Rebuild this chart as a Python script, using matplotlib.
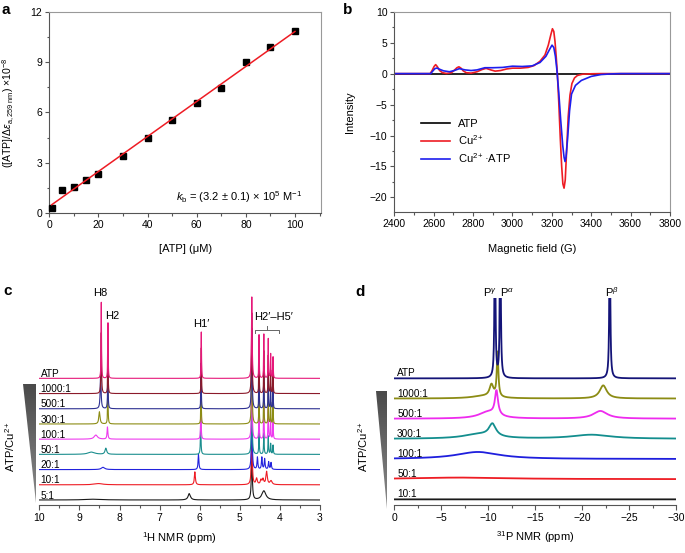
import numpy as np
import matplotlib
matplotlib.use("Agg")
import matplotlib.pyplot as plt
from matplotlib.patches import Polygon
from matplotlib.colors import LinearSegmentedColormap
from matplotlib.ticker import MultipleLocator

plt.rcParams["font.family"] = ["Liberation Sans", "DejaVu Sans"]
plt.rcParams["mathtext.fontset"] = "custom"
plt.rcParams["mathtext.rm"] = "Liberation Sans"
plt.rcParams["mathtext.it"] = "Liberation Sans:italic"
plt.rcParams["mathtext.bf"] = "Liberation Sans:bold"
plt.rcParams["font.size"] = 7.5
plt.rcParams["axes.linewidth"] = 0.8

# ---- panel a: [ATP]/delta-eps vs [ATP]
atp_conc = [1, 5, 10, 15, 20, 30, 40, 50, 60, 70, 80, 90, 100]
atp_ratio = [0.28, 1.39, 1.57, 1.94, 2.30, 3.42, 4.50, 5.52, 6.53, 7.43, 8.98, 9.92, 10.85]

# ---- panel b: EPR spectra
epr_atp_x = [2400, 3800]
epr_atp_y = [0, 0]
epr_cu_x = [2400, 2500, 2582, 2592, 2602, 2610, 2618, 2630, 2645, 2665, 2690, 2705,
            2718, 2728, 2738, 2750, 2765, 2790, 2820, 2845, 2866, 2890, 2912, 2940,
            2970, 3000, 3040, 3080, 3110, 3140, 3165, 3182, 3195, 3203, 3210, 3216,
            3222, 3228, 3235, 3243, 3250, 3256, 3262, 3268, 3275, 3283, 3292, 3302,
            3315, 3330, 3355, 3400, 3450, 3500, 3800]
epr_cu_y = [0, 0, 0, 0.5, 1.15, 1.45, 1.15, 0.5, 0.15, 0.02, 0.15, 0.55,
            0.95, 1.1, 0.9, 0.45, 0.15, 0.08, 0.3, 0.65, 0.85, 0.6, 0.4, 0.5,
            0.75, 0.88, 0.88, 1.0, 1.3, 2.0, 3.0, 4.6, 6.3, 7.25, 6.8, 5.2,
            2.8, 0.0, -4.5, -10.5, -15.0, -17.8, -18.5, -17.2, -12.5, -7.0, -3.5, -1.6,
            -0.7, -0.3, -0.1, -0.03, 0, 0, 0]
epr_cuatp_x = [2400, 2500, 2585, 2595, 2606, 2616, 2630, 2650, 2680, 2705, 2730, 2760,
               2790, 2820, 2860, 2900, 2950, 3000, 3050, 3100, 3140, 3170, 3190, 3201,
               3210, 3218, 3225, 3235, 3245, 3255, 3262, 3267, 3272, 3280, 3290, 3300,
               3320, 3350, 3400, 3450, 3500, 3550, 3800]
epr_cuatp_y = [0, 0, 0, 0.4, 0.8, 0.9, 0.7, 0.45, 0.3, 0.5, 0.8, 0.6,
               0.5, 0.6, 0.95, 0.95, 1.0, 1.2, 1.15, 1.25, 1.8, 2.8, 4.0, 4.6,
               4.2, 2.8, 0.8, -3.0, -7.5, -11.5, -13.5, -14.2, -13.5, -10.5, -6.0, -3.3,
               -1.9, -1.1, -0.45, -0.15, -0.05, 0, 0]

# ---- panel c: 1H NMR, peaks as (ppm, height, half width)
h_labels = ["5:1", "10:1", "20:1", "50:1", "100:1", "300:1", "500:1", "1000:1", "ATP"]
h_colors = ["#1a1a1a", "#ee1c24", "#2222dd", "#1b8e8e", "#ee3bee",
            "#8c8c14", "#2e3192", "#8b1a2a", "#e6197a"]
h_peaks = [
    [(8.65, 0.05, 0.25), (6.26, 0.42, 0.035), (4.70, 3.0, 0.014), (4.40, 0.6, 0.06)],
    [(8.52, 0.08, 0.12), (6.12, 0.85, 0.015), (4.70, 4.0, 0.012), (4.58, 0.4, 0.02),
     (4.47, 0.3, 0.02), (4.42, 0.35, 0.02), (4.33, 0.85, 0.02), (4.22, 0.25, 0.03)],
    [(8.41, 0.15, 0.05), (6.03, 1.0, 0.012), (4.70, 4.5, 0.011), (4.56, 0.8, 0.012),
     (4.45, 0.8, 0.012), (4.38, 0.7, 0.012), (4.28, 0.5, 0.012), (4.22, 0.45, 0.012)],
    [(8.70, 0.15, 0.10), (8.34, 0.4, 0.025), (5.975, 2.3, 0.008), (4.70, 4.8, 0.010),
     (4.52, 1.4, 0.008), (4.40, 1.4, 0.008), (4.29, 1.2, 0.008), (4.23, 0.7, 0.008),
     (4.17, 0.6, 0.008)],
    [(8.59, 0.27, 0.05), (8.30, 0.8, 0.012), (5.97, 2.7, 0.007), (4.70, 5.0, 0.010),
     (4.52, 2.2, 0.007), (4.40, 2.2, 0.007), (4.29, 2.0, 0.007), (4.23, 1.2, 0.007),
     (4.17, 1.1, 0.007)],
    [(8.50, 0.8, 0.018), (8.29, 2.5, 0.007), (5.965, 2.9, 0.006), (4.70, 5.2, 0.010),
     (4.52, 2.7, 0.006), (4.40, 2.7, 0.006), (4.29, 2.3, 0.006), (4.23, 1.4, 0.006),
     (4.17, 1.3, 0.006)],
    [(8.47, 2.5, 0.012), (8.29, 3.0, 0.007), (5.965, 3.0, 0.006), (4.70, 5.3, 0.010),
     (4.52, 2.8, 0.006), (4.40, 2.8, 0.006), (4.29, 2.4, 0.006), (4.23, 1.4, 0.006),
     (4.17, 1.3, 0.006)],
    [(8.455, 4.0, 0.008), (8.288, 3.4, 0.006), (5.96, 3.0, 0.006), (4.70, 5.3, 0.010),
     (4.52, 2.8, 0.006), (4.40, 2.8, 0.006), (4.29, 2.5, 0.006), (4.23, 1.5, 0.006),
     (4.17, 1.35, 0.006)],
    [(8.454, 5.0, 0.006), (8.287, 3.65, 0.006), (5.96, 3.05, 0.006), (4.70, 5.35, 0.010),
     (4.52, 2.85, 0.006), (4.40, 2.9, 0.006), (4.29, 2.6, 0.006), (4.23, 1.6, 0.006),
     (4.17, 1.4, 0.006)],
]

# ---- panel d: 31P NMR
p_labels = ["10:1", "50:1", "100:1", "300:1", "500:1", "1000:1", "ATP"]
p_colors = ["#1a1a1a", "#ee1c24", "#1e1edd", "#138e8e", "#ee2bee", "#8c8c14", "#141478"]
p_peaks = [
    [],
    [(-7.0, 0.08, 6.0)],
    [(-8.9, 0.35, 2.8)],
    [(-10.45, 0.62, 0.45), (-9.0, 0.22, 2.0), (-21.0, 0.2, 2.5)],
    [(-10.88, 1.2, 0.2), (-10.0, 0.33, 1.2), (-21.95, 0.38, 0.9)],
    [(-11.0, 2.2, 0.1), (-10.35, 0.6, 0.25), (-9.5, 0.12, 1.5), (-22.25, 0.65, 0.45)],
    [(-10.72, 8.0, 0.06), (-11.29, 8.0, 0.06), (-22.95, 8.0, 0.06)],
]


def lorentz_sum(x, peaks):
    y = np.zeros_like(x)
    for pos, h, w in peaks:
        y += h * w**2 / ((x - pos) ** 2 + w**2)
    return y


W, H = 685, 553
fig = plt.figure(figsize=(W / 100, H / 100), dpi=100)


def px_axes(left, top, right, bottom):
    return fig.add_axes([left / W, 1 - bottom / H, (right - left) / W, (bottom - top) / H])


def frame_style(ax):
    for s in ("left", "bottom"):
        ax.spines[s].set_color("#555555")
    for s in ("top", "right"):
        ax.spines[s].set_color("#999999")
    ax.tick_params(which="both", direction="out", color="#555555", width=0.8,
                   top=False, right=False, labelsize=7.5, pad=2)
    ax.tick_params(which="major", length=3)
    ax.tick_params(which="minor", length=1.8)


# ---------------- a
ax_a = px_axes(49.3, 11.7, 321, 213)
ax_a.plot(atp_conc, atp_ratio, "s", color="black", ms=4.8, clip_on=False, zorder=3)
slope, icept = np.polyfit(atp_conc, atp_ratio, 1)
fx = np.array([atp_conc[0], atp_conc[-1]])
ax_a.plot(fx, slope * fx + icept, color="#ee1c24", lw=1.1, zorder=4)
ax_a.set_xlim(0, 110.6)
ax_a.set_ylim(0, 12)
ax_a.xaxis.set_major_locator(MultipleLocator(20))
ax_a.xaxis.set_minor_locator(MultipleLocator(10))
ax_a.yaxis.set_major_locator(MultipleLocator(3))
ax_a.yaxis.set_minor_locator(MultipleLocator(1.5))
frame_style(ax_a)
ax_a.set_xlabel("[ATP] (μM)", fontsize=8)
ax_a.xaxis.set_label_coords(0.5, -0.155)
ax_a.set_ylabel(r"([ATP]/Δ$\varepsilon_{\rm a,259\ nm}$) ×10$^{-8}$", fontsize=7.6)
ax_a.yaxis.set_label_coords(-0.12, 0.5)
ax_a.text(0.93, 0.058, r"$k_{\rm b}$ = (3.2 ± 0.1) × 10$^{5}$ M$^{-1}$",
          transform=ax_a.transAxes, ha="right", va="baseline", fontsize=8)

# ---------------- b
ax_b = px_axes(394.3, 11.7, 670, 212.3)
ax_b.plot(epr_atp_x, epr_atp_y, color="black", lw=1.2, label="ATP")
ax_b.plot(epr_cu_x, epr_cu_y, color="#ee1c24", lw=1.2, label=r"Cu$^{2+}$")
ax_b.plot(epr_cuatp_x, epr_cuatp_y, color="#1e1eee", lw=1.2, label=r"Cu$^{2+}$·ATP")
ax_b.set_xlim(2400, 3800)
ax_b.set_ylim(-22.4, 10)
ax_b.xaxis.set_major_locator(MultipleLocator(200))
ax_b.xaxis.set_minor_locator(MultipleLocator(100))
ax_b.yaxis.set_major_locator(MultipleLocator(5))
ax_b.yaxis.set_minor_locator(MultipleLocator(2.5))
frame_style(ax_b)
ax_b.set_xlabel("Magnetic field (G)", fontsize=8)
ax_b.xaxis.set_label_coords(0.5, -0.158)
ax_b.set_ylabel("Intensity", fontsize=8)
ax_b.yaxis.set_label_coords(-0.143, 0.5)
ax_b.legend(loc="upper left", bbox_to_anchor=(0.09, 0.475), frameon=False, fontsize=8,
            handlelength=2.6, handletextpad=0.7, borderaxespad=0, borderpad=0.2,
            labelspacing=0.35)


def spectrum_style(ax):
    for s in ("left", "top", "right"):
        ax.spines[s].set_visible(False)
    ax.spines["bottom"].set_color("#555555")
    ax.set_yticks([])
    ax.tick_params(which="both", direction="out", color="#555555", width=0.8,
                   labelsize=7.5, pad=2)
    ax.tick_params(which="major", length=3.5)
    ax.tick_params(which="minor", length=2)


# ---------------- c
ax_c = px_axes(39.3, 285, 320, 505)
xh = np.linspace(3, 10, 14001)
for i, (lab, col, pk) in enumerate(zip(h_labels, h_colors, h_peaks)):
    ax_c.plot(xh, i + lorentz_sum(xh, pk), color=col, lw=0.8, zorder=2 + i)
    ax_c.text(9.97, i + 0.09, lab, ha="left", va="baseline", fontsize=7.2, zorder=20)
ax_c.set_xlim(10, 3)
ax_c.set_ylim(-0.33, 14.14)
ax_c.xaxis.set_major_locator(MultipleLocator(1))
ax_c.xaxis.set_minor_locator(MultipleLocator(0.5))
spectrum_style(ax_c)
ax_c.set_xlabel(r"$^{1}$H NMR (ppm)", fontsize=8)
ax_c.xaxis.set_label_coords(0.5, -0.115)
ax_c.text(8.47, 13.4, "H8", ha="center", va="baseline", fontsize=8)
ax_c.text(8.19, 11.9, "H2", ha="center", va="baseline", fontsize=8)
ax_c.text(5.96, 11.36, "H1′", ha="center", va="baseline", fontsize=8)
ax_c.text(4.64, 11.84, "H2′–H5′", ha="left", va="baseline", fontsize=8)
ax_c.plot([4.62, 4.62, 4.02, 4.02], [10.98, 11.2, 11.2, 10.98], color="#666666", lw=0.7)
ax_c.plot([4.33, 4.33], [11.2, 11.42], color="#666666", lw=0.7)

# ---------------- d
ax_d = px_axes(394.3, 298.3, 676, 505)
xp = np.linspace(-30, 0, 12001)
for i, (lab, col, pk) in enumerate(zip(p_labels, p_colors, p_peaks)):
    ax_d.plot(xp, i + lorentz_sum(xp, pk), color=col, lw=1.3, zorder=2 + i)
    ax_d.text(-0.3, i + 0.1, lab, ha="left", va="baseline", fontsize=7.2, zorder=20)
ax_d.set_xlim(0, -30)
ax_d.set_ylim(-0.28, 9.97)
ax_d.xaxis.set_major_locator(MultipleLocator(5))
ax_d.xaxis.set_minor_locator(MultipleLocator(2.5))
spectrum_style(ax_d)
ax_d.set_xlabel(r"$^{31}$P NMR (ppm)", fontsize=8)
ax_d.xaxis.set_label_coords(0.5, -0.115)
ax_d.text(-10.95, 10.05, "P$^{γ}$", ha="right", va="baseline", fontsize=8)
ax_d.text(-11.25, 10.05, "P$^{α}$", ha="left", va="baseline", fontsize=8)
ax_d.text(-23.2, 10.05, "P$^{β}$", ha="center", va="baseline", fontsize=8)

# ---------------- overlay: triangles, rotated labels, panel letters
over = fig.add_axes([0, 0, 1, 1], zorder=-1)
tri_cmap = LinearSegmentedColormap.from_list("tri", ["#4a4a4a", "#8a8a8a"])
for tri in ([(23.3, 384), (35.6, 384), (35.6, 503)],
            [(376.0, 390.7), (386.7, 390.7), (386.7, 509.3)]):
    poly = Polygon(tri, closed=True, facecolor="none", edgecolor="none")
    over.add_patch(poly)
    xs = [p[0] for p in tri]
    ys = [p[1] for p in tri]
    im = over.imshow(np.linspace(0, 1, 100).reshape(-1, 1), cmap=tri_cmap,
                     extent=(min(xs), max(xs), max(ys), min(ys)), aspect="auto")
    im.set_clip_path(poly)
over.set_xlim(0, W)
over.set_ylim(H, 0)
over.axis("off")

fig.text(10 / W, 1 - 447 / H, r"ATP/Cu$^{2+}$", rotation=90, ha="center", va="center", fontsize=8)
fig.text(363 / W, 1 - 447 / H, r"ATP/Cu$^{2+}$", rotation=90, ha="center", va="center", fontsize=8)

for letter, x, y in (("a", 1, 3), ("b", 343, 3), ("c", 3, 284), ("d", 355, 285)):
    fig.text(x / W, 1 - y / H, letter, ha="left", va="top", fontsize=11, fontweight="bold")

fig.savefig("out.png", dpi=100)
